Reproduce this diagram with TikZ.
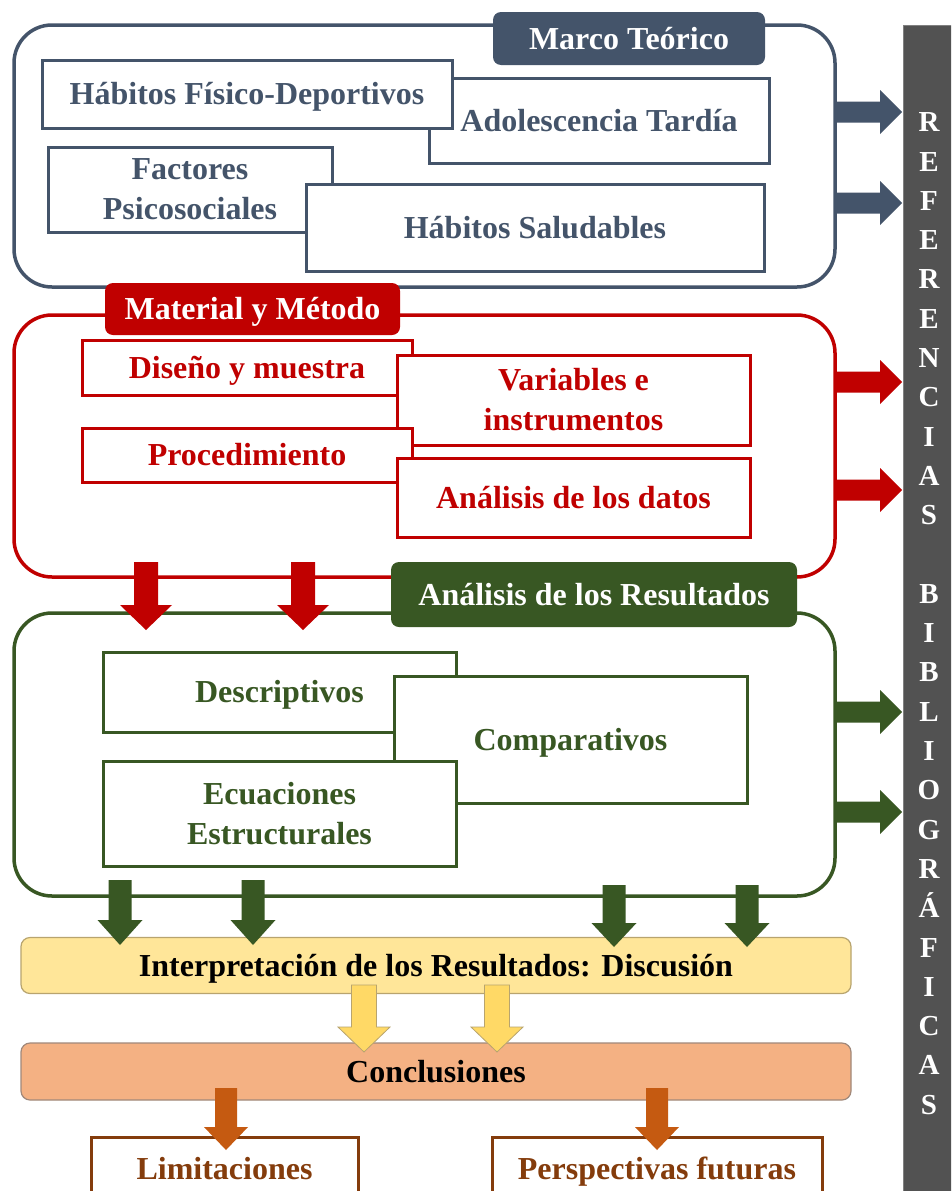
\documentclass[tikz,border=0pt]{standalone}
\usepackage{fontspec}
\setmainfont{Liberation Serif}
\usetikzlibrary{calc}

\definecolor{slate}{HTML}{44546A}
\definecolor{mred}{HTML}{C00000}
\definecolor{mgreen}{HTML}{385723}
\definecolor{discfill}{HTML}{FFE699}
\definecolor{discarrow}{HTML}{FFD966}
\definecolor{discline}{HTML}{B8A46E}
\definecolor{concfill}{HTML}{F4B183}
\definecolor{concarrow}{HTML}{C55A11}
\definecolor{concline}{HTML}{A0887A}
\definecolor{brownline}{HTML}{843C0C}
\definecolor{refgray}{HTML}{525252}

\tikzset{
  boxfont/.style={font=\bfseries\fontsize{32}{40}\selectfont},
  % single-line labels are centred on their capital height
  capline/.style={text height=21pt, text depth=0pt},
  container/.style={draw=#1, line width=3.5pt, rounded corners=38pt,
    minimum width=821pt, inner sep=0pt},
  header/.style={fill=#1, rounded corners=8pt, text=white, inner sep=0pt,
    boxfont, capline},
  itembox/.style={draw=#1, text=#1, fill=white, line width=3pt, inner sep=0pt,
    align=center, boxfont},
  stagebox/.style={fill=#1, rounded corners=9pt, line width=1.2pt,
    inner sep=0pt, minimum width=830pt, boxfont, capline},
  blockarrow/.style={fill=#1},
}

% right-pointing block arrow towards the reference bar, centred at height #2
\newcommand{\RArrow}[2]{%
  \path[#1] (836,#2-10.5) -- (880,#2-10.5) -- (880,#2-22) -- (902,#2)
    -- (880,#2+22) -- (880,#2+10.5) -- (836,#2+10.5) -- cycle;}
% downward block arrow: style, x, top, head start, tip, half shaft, half head
\newcommand{\DArrow}[7]{%
  \path[#1] (#2-#6,#3) -- (#2+#6,#3) -- (#2+#6,#4) -- (#2+#7,#4) -- (#2,#5)
    -- (#2-#7,#4) -- (#2-#6,#4) -- cycle;}

\begin{document}
\begin{tikzpicture}[x=1pt, y=-1pt]
\clip (0,0) rectangle (951,1191);
\fill[white] (0,0) rectangle (951,1191);

% ---------- reference column ----------
\node[fill=refgray, draw=gray, line width=1pt, minimum width=60pt,
  minimum height=1190pt, anchor=north west, inner sep=0pt] (refs) at (903,25) {};
\node[anchor=north, inner sep=0pt, align=center, text=white,
  font=\bfseries\fontsize{29}{39.3}\selectfont] (reflabel) at (929,112.5)
  {R\\E\\F\\E\\R\\E\\N\\C\\I\\A\\S\\[39.3pt]B\\I\\B\\L\\I\\O\\G\\R\\Á\\F\\I\\C\\A\\S};

% ---------- Marco Teórico ----------
\node[container=slate, minimum height=262pt] (marco) at (424.5,156) {};
\node[header=slate, minimum width=272pt, minimum height=53pt] (marcoh) at (629,38.5) {Marco Teórico};
\node[itembox=slate, capline, minimum width=340pt, minimum height=85pt] (adol) at (599,120.5) {Adolescencia Tardía};
\node[itembox=slate, capline, minimum width=410pt, minimum height=68pt] (habfd) at (247,94) {Hábitos Físico-Deportivos};
\node[itembox=slate, minimum width=284pt, minimum height=85pt] (fact) at (190,189.5) {Factores\\Psicosociales};
\node[itembox=slate, capline, minimum width=458pt, minimum height=87pt] (salud) at (535,227.5) {Hábitos Saludables};

% ---------- Material y Método ----------
\node[container=mred, minimum height=262pt] (metodo) at (424.5,446) {};
\node[header=mred, minimum width=295pt, minimum height=52pt] (metodoh) at (252.5,309) {Material y Método};
\node[itembox=mred, capline, minimum width=330pt, minimum height=55pt] (diseno) at (247,367.5) {Diseño y muestra};
\node[itembox=mred, minimum width=353pt, minimum height=90pt] (variab) at (573.5,400) {Variables e\\instrumentos};
\node[itembox=mred, capline, minimum width=330pt, minimum height=54pt] (proced) at (247,455) {Procedimiento};
\node[itembox=mred, capline, minimum width=353pt, minimum height=79pt] (datos) at (573.5,497.5) {Análisis de los datos};

% ---------- Análisis de los Resultados ----------
\node[container=mgreen, minimum height=283pt] (result) at (424.5,754.5) {};
\node[header=mgreen, minimum width=406pt, minimum height=65pt] (resulth) at (594,594.5) {Análisis de los Resultados};
\node[itembox=mgreen, capline, minimum width=353pt, minimum height=80pt] (descr) at (279.5,692) {Descriptivos};
\node[itembox=mgreen, capline, minimum width=353pt, minimum height=127pt] (compar) at (570.5,739.5) {Comparativos};
\node[itembox=mgreen, minimum width=353pt, minimum height=105pt] (ecuac) at (279.5,813.5) {Ecuaciones\\Estructurales};

% ---------- discussion, conclusions and outlook ----------
\node[stagebox=discfill, draw=discline, minimum height=56pt] (discus) at (436,965.5)
  {Interpretación de los Resultados: Discusión};
\node[stagebox=concfill, draw=concline, minimum height=57pt] (concl) at (436,1071.5)
  {Conclusiones};
\node[itembox=brownline, capline, minimum width=267pt, minimum height=64pt] (limit) at (224.5,1169) {Limitaciones};
\node[itembox=brownline, capline, minimum width=330pt, minimum height=64pt] (persp) at (657,1169) {Perspectivas futuras};

% ---------- arrows into the reference column ----------
\RArrow{blockarrow=slate}{112}
\RArrow{blockarrow=slate}{203}
\RArrow{blockarrow=mred}{382}
\RArrow{blockarrow=mred}{490}
\RArrow{blockarrow=mgreen}{712}
\RArrow{blockarrow=mgreen}{812}

% ---------- downward arrows between stages ----------
\DArrow{blockarrow=mred}{146}{562}{605}{630}{12}{26}
\DArrow{blockarrow=mred}{303}{562}{605}{630}{12}{26}
\DArrow{blockarrow=mgreen}{120}{880}{920}{945}{11.5}{22.5}
\DArrow{blockarrow=mgreen}{253}{880}{920}{945}{11.5}{22.5}
\DArrow{blockarrow=mgreen}{614}{885}{923}{947}{11.5}{22.5}
\DArrow{blockarrow=mgreen}{747}{885}{923}{947}{11.5}{22.5}
\DArrow{blockarrow=discarrow, draw=discline, line width=0.8pt}{364}{985}{1027}{1052}{12.5}{26}
\DArrow{blockarrow=discarrow, draw=discline, line width=0.8pt}{497}{985}{1027}{1052}{12.5}{26}
\DArrow{blockarrow=concarrow}{226}{1088}{1127}{1150}{11}{22}
\DArrow{blockarrow=concarrow}{657}{1088}{1127}{1150}{11}{22}
\end{tikzpicture}
\end{document}
